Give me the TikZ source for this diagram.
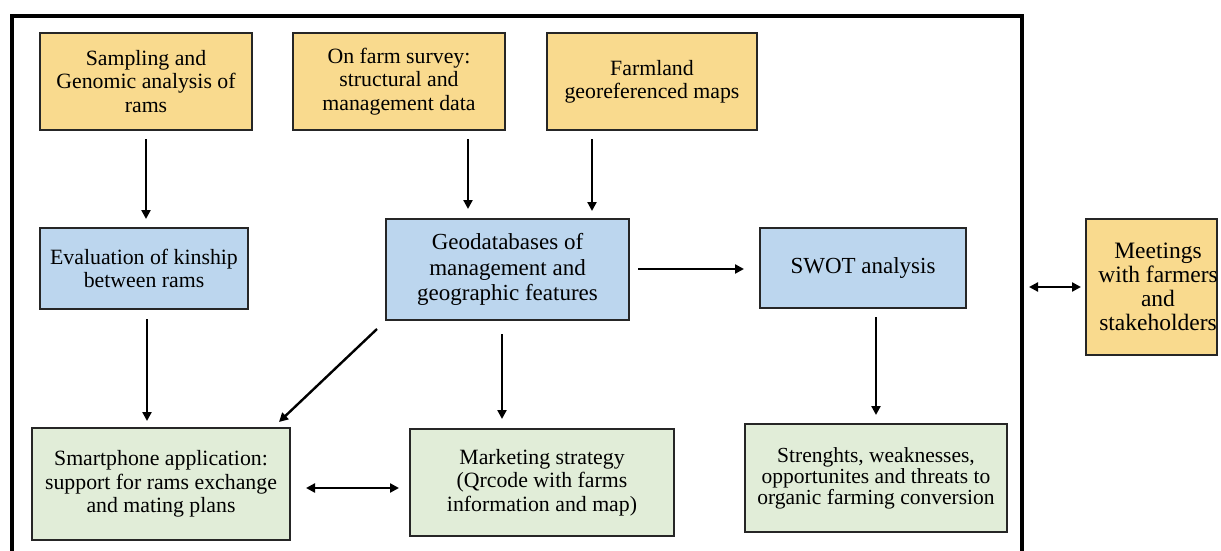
\documentclass[tikz,border=0pt]{standalone}
\usepackage{fontspec}
\setmainfont{Liberation Serif}
\usetikzlibrary{arrows.meta}
\definecolor{boxyellow}{HTML}{F9DA8E}
\definecolor{boxblue}{HTML}{BCD6EE}
\definecolor{boxgreen}{HTML}{E1EDD8}
\begin{document}
\begin{tikzpicture}[x=1pt,y=-1pt,
  box/.style={draw=black!85, line width=2pt, align=center, inner sep=2pt,
    font=\fontsize{21.8}{23.3}\selectfont},
  ybox/.style={box, fill=boxyellow},
  bbox/.style={box, fill=boxblue},
  gbox/.style={box, fill=boxgreen},
  arr/.style={line width=2.4pt, -{Triangle[length=9pt,width=9pt]}},
  darr/.style={line width=2.4pt, {Triangle[length=9pt,width=9pt]}-{Triangle[length=9pt,width=9pt]}},
  outer/.style={draw, line width=4pt, inner sep=0pt}]
\useasboundingbox (0,0) rectangle (1221,551);
\fill[white] (0,0) rectangle (1221,551);
\begin{scope}
\clip (0,0) rectangle (1221,551);
% enclosing frame of the workflow
\node[outer, minimum width=1010pt, minimum height=544pt] (frame) at (517,288) {};
% data sources
\node[ybox, minimum width=212pt, minimum height=97pt] (samp) at (146,81.5)
  {Sampling and\\Genomic analysis of\\rams};
\node[ybox, minimum width=212pt, minimum height=97pt] (onfarm) at (399,81.5)
  {On farm survey:\\structural and\\management data};
\node[ybox, minimum width=210pt, minimum height=97pt] (farm) at (652,81.5)
  {Farmland\\georeferenced maps};
% analyses
\node[bbox, minimum width=208pt, minimum height=81pt] (eval) at (144,268.5)
  {Evaluation of kinship\\between rams};
\node[bbox, minimum width=243pt, minimum height=101pt,
  font=\fontsize{23}{25.5}\selectfont] (geo) at (507.5,269.5)
  {Geodatabases of\\management and\\geographic features};
\node[bbox, minimum width=206pt, minimum height=80pt,
  font=\fontsize{23}{25}\selectfont] (swot) at (863,268)
  {SWOT analysis};
% outputs
\node[gbox, minimum width=258pt, minimum height=112pt] (smart) at (161,484)
  {Smartphone application:\\support for rams exchange\\and mating plans};
\node[gbox, minimum width=264pt, minimum height=107pt] (market) at (542,482.5)
  {Marketing strategy\\(Qrcode with farms\\information and map)};
\node[gbox, minimum width=262pt, minimum height=108pt,
  font=\fontsize{21.5}{21}\selectfont] (swotres) at (876,478)
  {Strenghts, weaknesses,\\opportunites and threats to\\organic farming conversion};
% stakeholders outside the frame (text runs slightly past the box)
\node[ybox, minimum width=131pt, minimum height=136pt] (meet) at (1151.5,287) {};
\node[align=center, inner sep=0pt, font=\fontsize{23.5}{23.8}\selectfont]
  (meettext) at ([xshift=6.5pt]meet.center)
  {Meetings\\with farmers\\and\\stakeholders};
\end{scope}
% connectors
\draw[arr, shorten <=8pt, shorten >=8pt] (samp.south) -- (samp.south |- eval.north);
\draw[arr, shorten <=8pt, shorten >=9pt] (onfarm.south -| 468,0) -- (geo.north -| 468,0);
\draw[arr, shorten <=8pt, shorten >=7pt] (farm.south -| 592,0) -- (geo.north -| 592,0);
\draw[arr, shorten <=8pt, shorten >=15pt] (geo.east |- 0,269) -- (swot.west |- 0,269);
\draw[arr, shorten <=9pt, shorten >=6pt] (eval.south -| 147,0) -- (smart.north -| 147,0);
\draw[arr] ([shift={(-8,8)}]geo.south west) -- ([shift={(-12,-5)}]smart.north east);
\draw[arr, shorten <=13pt, shorten >=9pt] (geo.south -| 502,0) -- (market.north -| 502,0);
\draw[arr, shorten <=8pt, shorten >=8pt] (swotres.north |- swot.south) -- (swotres.north);
\draw[darr, shorten <=15pt, shorten >=10pt] (smart.east |- 0,488) -- (market.west |- 0,488);
\draw[darr, shorten <=5pt, shorten >=4pt] (frame.east |- 0,287) -- (meet.west |- 0,287);
\end{tikzpicture}
\end{document}
